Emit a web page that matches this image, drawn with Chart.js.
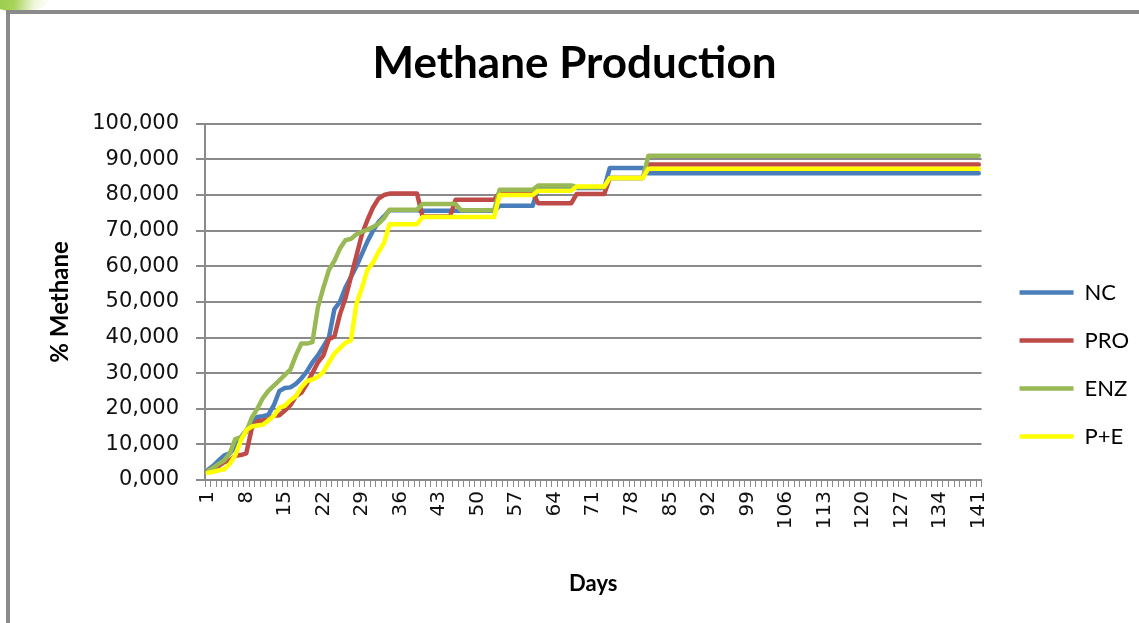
<!DOCTYPE html>
<html>
<head>
<meta charset="utf-8">
<script src="https://cdn.jsdelivr.net/npm/chart.js@4"></script>
<style>
  html, body { margin: 0; padding: 0; background: #fff; overflow: hidden; }
  #leaf {
    position: absolute; left: -12px; top: -16px; width: 62px; height: 28px;
    border-radius: 50%;
    background: linear-gradient(100deg, #8cc63f 0%, #a9d45c 45%, rgba(230,242,200,0.6) 75%, rgba(255,255,255,0) 100%);
  }
  #frame {
    position: absolute; left: 6px; top: 10px; width: 1133px; height: 613px;
    box-sizing: border-box; background: #fff;
    border-left: 4px solid #8a8a8a; border-top: 4px solid #8a8a8a;
  }
  #chart { position: absolute; left: 0; top: 0; }
</style>
</head>
<body>
<div id="leaf"></div>
<div id="frame"><canvas id="chart" width="1129" height="609"></canvas></div>
<script>
// Days 1..141
const days = Array.from({ length: 141 }, (_, i) => String(i + 1));

// % Methane per day
const nc = [
  2.8, 4.0, 5.5, 6.9, 7.5, 9.3, 12.0, 14.0, 16.0, 17.7,
  17.9, 18.3, 21.0, 25.0, 25.8, 26.0, 27.0, 28.5, 30.5, 33.0,
  35.0, 37.5, 40.0, 48.0, 50.0, 54.0, 57.0, 60.0, 63.5, 67.0,
  70.0, 72.4, 74.0, 75.7, 75.7, 75.7, 75.7, 75.7, 75.7, 75.6,
  75.6, 75.6, 75.6, 75.6, 75.6, 75.6, 75.6, 75.6, 75.6, 75.6,
  75.6, 75.6, 75.6, 77.0, 77.0, 77.0, 77.0, 77.0, 77.0, 77.0,
  82.0, 82.0, 82.0, 82.0, 82.0, 82.0, 82.0, 82.0, 82.0, 82.0,
  82.0, 82.0, 82.0, 87.6, 87.6, 87.6, 87.6, 87.6, 87.6, 87.6,
  86.1, 86.1, 86.1, 86.1, 86.1, 86.1, 86.1, 86.1, 86.1, 86.1,
  86.1, 86.1, 86.1, 86.1, 86.1, 86.1, 86.1, 86.1, 86.1, 86.1,
  86.1, 86.1, 86.1, 86.1, 86.1, 86.1, 86.1, 86.1, 86.1, 86.1,
  86.1, 86.1, 86.1, 86.1, 86.1, 86.1, 86.1, 86.1, 86.1, 86.1,
  86.1, 86.1, 86.1, 86.1, 86.1, 86.1, 86.1, 86.1, 86.1, 86.1,
  86.1, 86.1, 86.1, 86.1, 86.1, 86.1, 86.1, 86.1, 86.1, 86.1,
  86.1
];
const pro = [
  2.5, 3.5, 4.0, 5.0, 5.5, 6.8, 7.0, 7.5, 14.5, 16.5,
  16.7, 17.0, 18.0, 18.2, 19.5, 21.0, 23.5, 24.5, 27.0, 30.0,
  33.0, 35.0, 39.5, 40.3, 46.5, 51.0, 57.0, 63.0, 69.0, 73.0,
  76.5, 79.0, 80.0, 80.4, 80.4, 80.4, 80.4, 80.4, 80.4, 74.0,
  74.0, 74.0, 74.0, 74.0, 74.0, 78.7, 78.7, 78.7, 78.7, 78.7,
  78.7, 78.7, 78.7, 80.7, 80.7, 80.7, 80.7, 80.7, 80.7, 80.7,
  77.7, 77.7, 77.7, 77.7, 77.7, 77.7, 77.7, 80.3, 80.3, 80.3,
  80.3, 80.3, 80.3, 84.8, 84.8, 84.8, 84.8, 84.8, 84.8, 84.8,
  88.6, 88.6, 88.6, 88.6, 88.6, 88.6, 88.6, 88.6, 88.6, 88.6,
  88.6, 88.6, 88.6, 88.6, 88.6, 88.6, 88.6, 88.6, 88.6, 88.6,
  88.6, 88.6, 88.6, 88.6, 88.6, 88.6, 88.6, 88.6, 88.6, 88.6,
  88.6, 88.6, 88.6, 88.6, 88.6, 88.6, 88.6, 88.6, 88.6, 88.6,
  88.6, 88.6, 88.6, 88.6, 88.6, 88.6, 88.6, 88.6, 88.6, 88.6,
  88.6, 88.6, 88.6, 88.6, 88.6, 88.6, 88.6, 88.6, 88.6, 88.6,
  88.6
];
const enz = [
  2.5, 3.5, 4.5, 5.5, 7.5, 11.5, 12.0, 13.5, 17.5, 20.0,
  23.0, 25.0, 26.5, 28.0, 29.5, 31.0, 35.0, 38.3, 38.3, 38.7,
  48.5, 54.0, 59.0, 61.5, 65.0, 67.3, 67.7, 69.0, 69.7, 70.3,
  71.0, 72.0, 73.5, 75.9, 75.9, 75.9, 75.9, 75.9, 75.9, 77.5,
  77.5, 77.5, 77.5, 77.5, 77.5, 77.5, 75.7, 75.7, 75.7, 75.7,
  75.7, 75.7, 75.7, 81.5, 81.5, 81.5, 81.5, 81.5, 81.5, 81.5,
  82.7, 82.7, 82.7, 82.7, 82.7, 82.7, 82.7, 82.2, 82.2, 82.2,
  82.2, 82.2, 82.2, 84.8, 84.8, 84.8, 84.8, 84.8, 84.8, 84.8,
  91.0, 91.0, 91.0, 91.0, 91.0, 91.0, 91.0, 91.0, 91.0, 91.0,
  91.0, 91.0, 91.0, 91.0, 91.0, 91.0, 91.0, 91.0, 91.0, 91.0,
  91.0, 91.0, 91.0, 91.0, 91.0, 91.0, 91.0, 91.0, 91.0, 91.0,
  91.0, 91.0, 91.0, 91.0, 91.0, 91.0, 91.0, 91.0, 91.0, 91.0,
  91.0, 91.0, 91.0, 91.0, 91.0, 91.0, 91.0, 91.0, 91.0, 91.0,
  91.0, 91.0, 91.0, 91.0, 91.0, 91.0, 91.0, 91.0, 91.0, 91.0,
  91.0
];
const pe = [
  2.0, 2.3, 2.7, 3.0, 4.5, 7.0, 11.0, 14.0, 15.0, 15.3,
  15.5, 16.7, 18.0, 20.3, 20.8, 22.4, 23.5, 26.0, 27.8, 28.2,
  29.0, 30.3, 33.0, 35.5, 37.0, 38.5, 39.2, 49.5, 54.0, 59.0,
  61.0, 64.0, 66.5, 71.8, 71.8, 71.8, 71.8, 71.8, 71.8, 73.8,
  73.8, 73.8, 73.8, 73.8, 73.8, 73.8, 73.8, 73.8, 73.8, 73.8,
  73.8, 73.8, 73.8, 80.0, 80.0, 80.0, 80.0, 80.0, 80.0, 80.0,
  81.2, 81.2, 81.2, 81.2, 81.2, 81.2, 81.2, 82.4, 82.4, 82.4,
  82.4, 82.4, 82.4, 84.8, 84.8, 84.8, 84.8, 84.8, 84.8, 84.8,
  87.4, 87.4, 87.4, 87.4, 87.4, 87.4, 87.4, 87.4, 87.4, 87.4,
  87.4, 87.4, 87.4, 87.4, 87.4, 87.4, 87.4, 87.4, 87.4, 87.4,
  87.4, 87.4, 87.4, 87.4, 87.4, 87.4, 87.4, 87.4, 87.4, 87.4,
  87.4, 87.4, 87.4, 87.4, 87.4, 87.4, 87.4, 87.4, 87.4, 87.4,
  87.4, 87.4, 87.4, 87.4, 87.4, 87.4, 87.4, 87.4, 87.4, 87.4,
  87.4, 87.4, 87.4, 87.4, 87.4, 87.4, 87.4, 87.4, 87.4, 87.4,
  87.4
];

const gris = '#8a8a8a';

function serie(label, data, color, order) {
  return {
    label: label, data: data, order: order,
    borderColor: color, backgroundColor: color,
    borderWidth: 4.5, pointRadius: 0, tension: 0,
    borderJoinStyle: 'round', borderCapStyle: 'round'
  };
}

const chart = new Chart(document.getElementById('chart'), {
  type: 'line',
  data: {
    labels: days,
    datasets: [
      serie('NC', nc, '#4a7ebb', 4),
      serie('PRO', pro, '#be4b48', 3),
      serie('ENZ', enz, '#98b954', 2),
      serie('P+E', pe, '#ffff00', 1)
    ]
  },
  options: {
    responsive: false,
    animation: false,
    devicePixelRatio: 1,
    layout: { padding: { left: 0, right: 0, top: 0, bottom: 0 } },
    plugins: {
      title: {
        display: true, text: 'Methane Production', color: '#000',
        font: { family: 'Lato', size: 44, weight: 'bold' },
        padding: { top: 23, bottom: 34 }
      },
      legend: {
        position: 'right',
        // titulo vacio solo para bajar la columna de la leyenda
        title: { display: true, text: ' ', font: { size: 10 }, padding: { top: 0, bottom: 80 } },
        labels: {
          usePointStyle: true, pointStyle: 'line', pointStyleWidth: 54,
          color: '#000', font: { family: 'Lato', size: 22 }, padding: 26,
          sort: (a, b) => a.datasetIndex - b.datasetIndex
        }
      },
      tooltip: { enabled: false }
    },
    scales: {
      x: {
        offset: true,
        grid: { offset: true, drawOnChartArea: false, color: gris, tickLength: 7 },
        border: { color: gris, width: 2 },
        ticks: {
          autoSkip: false, minRotation: 90, maxRotation: 90, padding: 4,
          color: '#111', font: { family: 'DejaVu Sans', size: 20 },
          callback: (v, i) => (i % 7 === 0 ? days[i] : '')
        },
        title: {
          display: true, text: 'Days', color: '#000',
          font: { family: 'Lato', size: 22, weight: 'bold' },
          padding: { bottom: 26 }
        },
        afterFit: (s) => { s.height = 143; }
      },
      y: {
        min: 0, max: 100,
        grid: { color: gris, lineWidth: 2, tickLength: 9 },
        border: { color: gris, width: 2 },
        ticks: {
          stepSize: 10, padding: 17, color: '#111',
          font: { family: 'DejaVu Sans', size: 21 },
          callback: (v) => v.toFixed(3).replace('.', ',')
        },
        title: {
          display: true, text: '% Methane', color: '#000',
          font: { family: 'Lato', size: 24, weight: 'bold' },
          padding: { top: 36 }
        },
        afterFit: (s) => { s.width = 195; }
      },
      hueco: {
        type: 'linear', position: 'right', display: true,
        grid: { display: false }, ticks: { display: false }, border: { display: false },
        afterFit: (s) => { s.width = 12; }
      }
    }
  }
});
</script>
</body>
</html>
